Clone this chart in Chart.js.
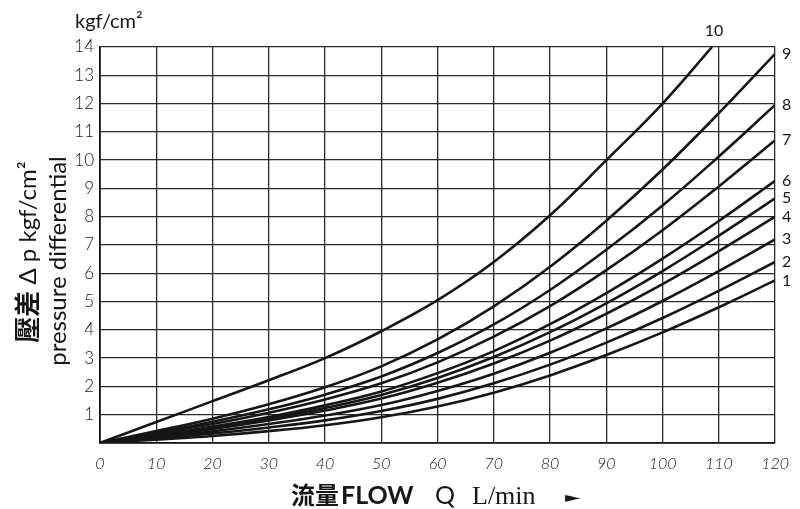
<!DOCTYPE html>
<html>
<head>
<meta charset="utf-8">
<script src="https://cdn.jsdelivr.net/npm/chart.js@4.4.1/dist/chart.umd.min.js"></script>
<style>
  html,body{margin:0;padding:0;background:#fff}
  #wrap{width:800px;height:509px}
</style>
</head>
<body>
<div id="wrap"><canvas id="chart" width="800" height="509"></canvas></div>
<script>
// --- Data: flow (L/min) and pressure differential (kgf/cm2) per curve ---
const FLOW = [0,10,20,30,40,50,60,70,80,90,100,110,120];
const FLOW_10 = [0,10,20,30,40,50,60,70,80,90,100,108.8];
const P1 = [0,0.12,0.25,0.42,0.63,0.91,1.29,1.78,2.39,3.11,3.91,4.8,5.75];
const P2 = [0,0.16,0.34,0.55,0.8,1.13,1.56,2.11,2.77,3.55,4.42,5.38,6.4];
const P3 = [0,0.2,0.41,0.67,0.97,1.34,1.84,2.45,3.19,4.05,5.02,6.08,7.2];
const P4 = [0,0.24,0.5,0.8,1.15,1.57,2.13,2.81,3.62,4.57,5.62,6.78,8.0];
const P5 = [0,0.26,0.54,0.86,1.24,1.7,2.3,3.04,3.92,4.94,6.08,7.33,8.65];
const P6 = [0,0.28,0.58,0.92,1.33,1.82,2.47,3.25,4.2,5.3,6.52,7.85,9.27];
const P7 = [0,0.33,0.67,1.07,1.54,2.11,2.85,3.76,4.84,6.11,7.52,9.07,10.7];
const P8 = [0,0.36,0.75,1.19,1.71,2.35,3.18,4.19,5.41,6.83,8.4,10.13,11.95];
const P9 = [0,0.42,0.86,1.37,1.97,2.71,3.66,4.83,6.23,7.86,9.67,11.66,13.76];
const P10 = [0,0.74,1.48,2.22,3.0,3.95,5.05,6.4,8.05,10.0,12.0,14];
const CURVE_NAMES = ['1','2','3','4','5','6','7','8','9','10'];

const INK = '#161616';

function pts(xs, ys){ return xs.map((x,i)=>({x:x, y:ys[i]})); }

const seriesY = [P1,P2,P3,P4,P5,P6,P7,P8,P9,P10];
const datasets = seriesY.map((ys,i)=>({
  label: CURVE_NAMES[i],
  data: pts(i===9 ? FLOW_10 : FLOW, ys),
  borderColor: INK,
  borderWidth: 2.6,
  pointRadius: 0,
  fill: false,
  tension: 0.4
}));

// curve numbers at the end of each line + axis titles
const annotate = {
  id: 'annotate',
  afterDraw(chart){
    const c = chart.ctx;
    c.save();
    c.fillStyle = INK;
    // curve numbers
    c.font = '16px Lato';
    chart.data.datasets.forEach((ds,i)=>{
      const meta = chart.getDatasetMeta(i);
      const last = meta.data[meta.data.length-1];
      if(i===9){
        c.textAlign='center'; c.textBaseline='middle';
        c.fillText(ds.label, last.x+2, 31);
      } else {
        c.textAlign='left'; c.textBaseline='middle';
        c.fillText(ds.label, chart.chartArea.right+7, last.y);
      }
    });

    // unit above y axis
    c.textAlign='left'; c.textBaseline='alphabetic';
    c.font = '20px Lato';
    c.fillText('kgf/cm\u00B2', 75, 28);

    // y axis title (rotated, two lines)
    c.save();
    c.rotate(-Math.PI/2);
    // line 1: 壓差 Δ p kgf/cm²
    const cjk = 'bold 26px "Noto Sans CJK TC"';
    const lat = '24px Lato';
    c.font = cjk; const w1 = c.measureText('壓差').width;
    c.font = lat; const w2 = c.measureText(' \u0394 p kgf/cm\u00B2').width;
    const start = -252 - (w1+w2)/2;
    c.textBaseline='middle';
    c.font = cjk; c.fillText('壓差', start, 27);
    c.font = lat; c.fillText(' \u0394 p kgf/cm\u00B2', start+w1, 28);
    // line 2
    c.textAlign='center';
    c.font = '24px Lato';
    c.fillText('pressure differential', -261, 58);
    c.restore();

    // x axis title
    c.textAlign='left'; c.textBaseline='alphabetic';
    c.font = 'bold 24px "Noto Sans CJK TC"';
    c.fillText('流量', 291, 504);
    c.font = 'bold 25px Lato';
    c.fillText('FLOW', 341, 504);
    c.font = '25px Lato';
    c.fillText('Q', 435, 504);
    c.font = '26px "Liberation Serif"';
    c.fillText('L/min', 472, 504);
    c.save();
    c.translate(565, 502);
    c.scale(1.5, 1);
    c.font = '14px "DejaVu Sans"';
    c.fillText('\u25BA', 0, 0);
    c.restore();
    c.restore();
  }
};

const ctx = document.getElementById('chart').getContext('2d');
new Chart(ctx, {
  type: 'line',
  data: { datasets },
  options: {
    responsive: false,
    devicePixelRatio: 1,
    animation: false,
    layout: { padding: { top: 47, right: 21, left: 0, bottom: 0 } },
    plugins: { legend: { display: false }, tooltip: { enabled: false } },
    scales: {
      x: {
        type: 'linear', min: 0, max: 120,
        grid: { color: '#2a2a2a', lineWidth: 1.3, drawTicks: false },
        border: { color: INK, width: 1.8 },
        ticks: { stepSize: 10, padding: 11, color: INK, font: { family: 'Lato', size: 16, style: 'italic', weight: '300' } },
        afterFit(s){ s.height = 66; }
      },
      y: {
        min: 0, max: 14,
        grid: { color: '#2a2a2a', lineWidth: 1.3, drawTicks: false },
        border: { color: INK, width: 1.8 },
        ticks: { stepSize: 1, padding: 6, color: INK, font: { family: 'Lato', size: 17, weight: '300' },
          callback: v => v===0 ? '' : v },
        afterFit(s){ s.width = 100; }
      }
    }
  },
  plugins: [annotate]
});
</script>
</body>
</html>
